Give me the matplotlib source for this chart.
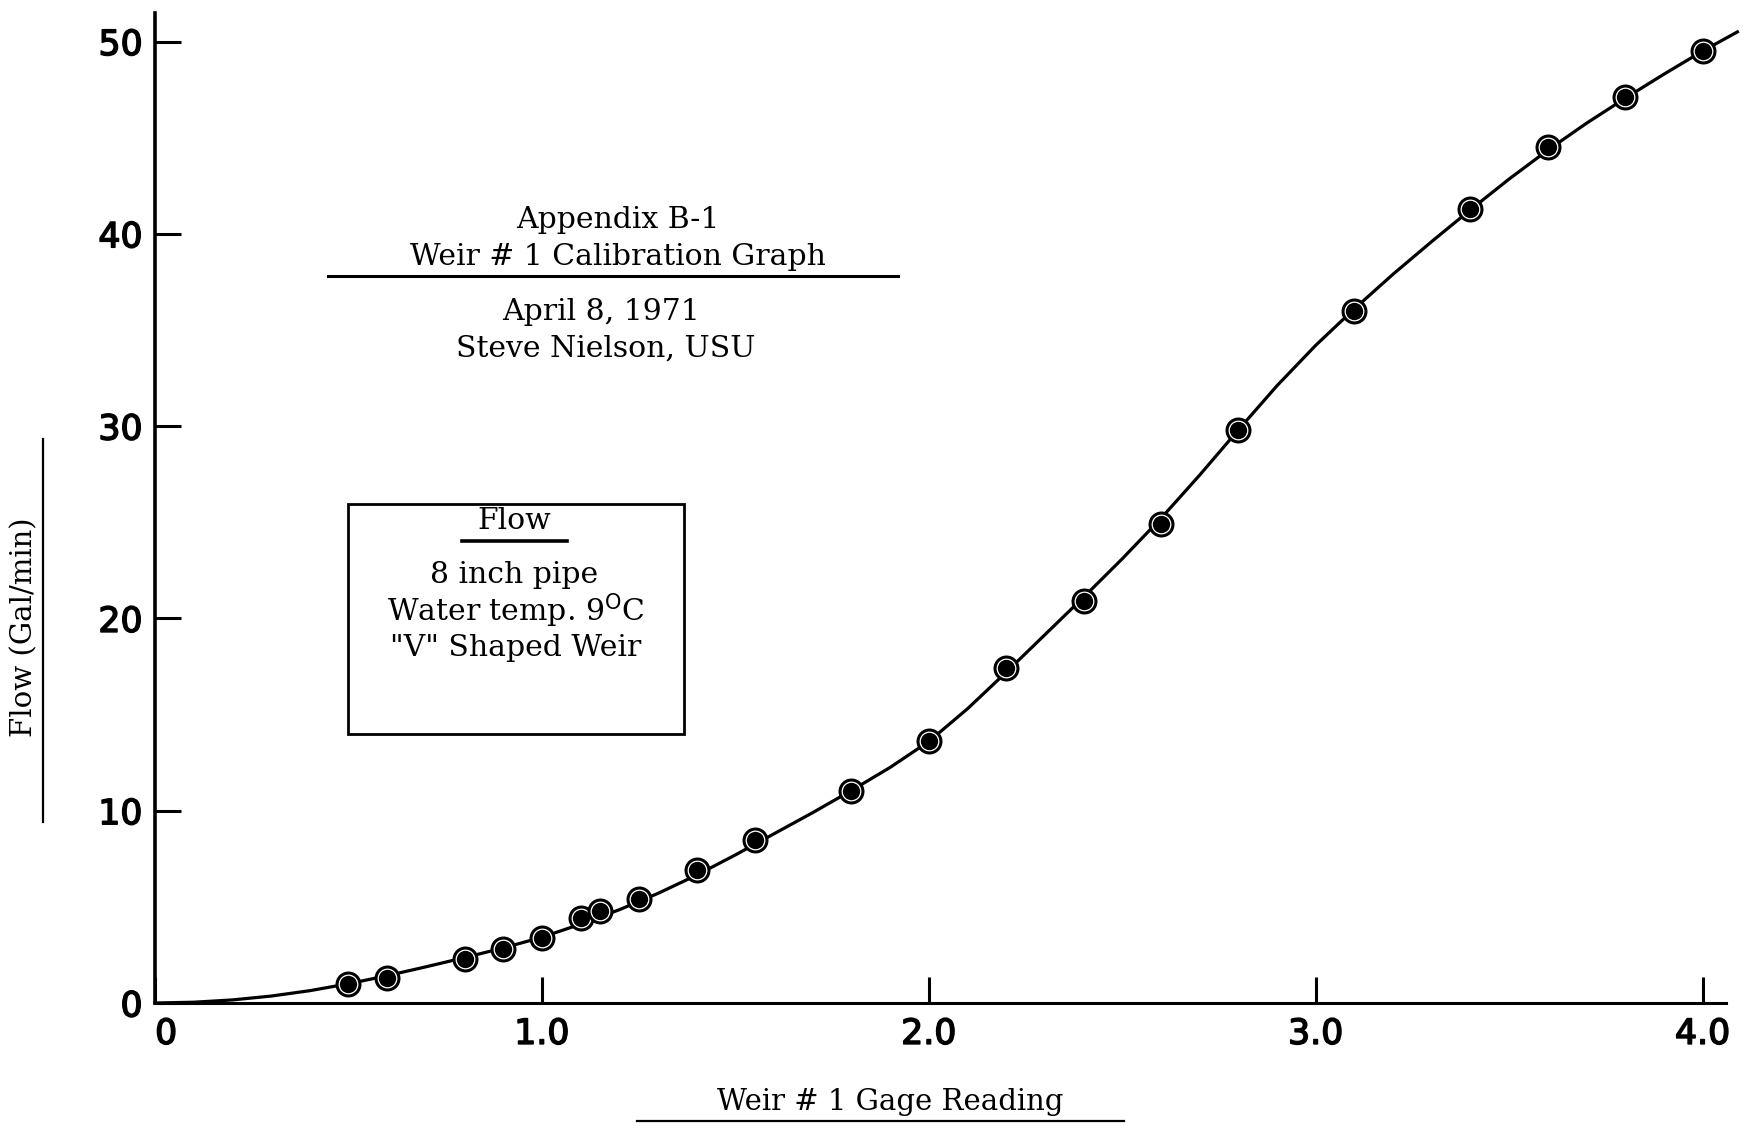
import matplotlib
matplotlib.use("Agg")
import matplotlib.pyplot as plt
import matplotlib.transforms as mtransforms
import matplotlib.patheffects as pe
from matplotlib.lines import Line2D
from matplotlib.patches import Rectangle

# Measured calibration points (gage reading, flow in gal/min)
gage = [0.5, 0.6, 0.8, 0.9, 1.0, 1.1, 1.15, 1.25, 1.4, 1.55, 1.8, 2.0,
        2.2, 2.4, 2.6, 2.8, 3.1, 3.4, 3.6, 3.8, 4.0]
flow = [1.0, 1.3, 2.3, 2.8, 3.4, 4.4, 4.8, 5.4, 6.9, 8.5, 11.0, 13.6,
        17.4, 20.9, 24.9, 29.8, 36.0, 41.3, 44.5, 47.1, 49.5]

# Hand-drawn calibration curve
curve_x = [0, 0.1, 0.2, 0.3, 0.4, 0.5, 0.6, 0.7, 0.8, 0.9, 1.0, 1.1, 1.2, 1.3,
           1.4, 1.5, 1.6, 1.7, 1.8, 1.9, 2.0, 2.1, 2.2, 2.3, 2.4, 2.5, 2.6,
           2.7, 2.8, 2.9, 3.0, 3.1, 3.2, 3.3, 3.4, 3.5, 3.6, 3.7, 3.8, 3.9,
           4.0, 4.09]
curve_y = [0, 0.04, 0.16, 0.36, 0.64, 1.0, 1.42, 1.88, 2.36, 2.86, 3.42, 4.1,
           4.85, 5.7, 6.65, 7.7, 8.8, 9.9, 11.05, 12.25, 13.6, 15.3, 17.2,
           19.15, 21.1, 23.1, 25.2, 27.45, 29.8, 32.1, 34.2, 36.1, 37.9,
           39.6, 41.25, 42.85, 44.35, 45.75, 47.05, 48.3, 49.5, 50.5]

x_ticks = [0, 1.0, 2.0, 3.0, 4.0]
x_tick_labels = ["0", "1.0", "2.0", "3.0", "4.0"]
y_ticks = [0, 10, 20, 30, 40, 50]
y_tick_labels = ["0", "10", "20", "30", "40", "50"]

W, H = 1753, 1128
fig = plt.figure(figsize=(W / 100, H / 100), dpi=100)

# axes placement in pixels
ax_left, ax_bottom_px = 155, 1003
xmax, ymax = 4.06, 51.5
px_per_x = 386.9
px_per_y = 19.23
ax = fig.add_axes([ax_left / W, 1 - ax_bottom_px / H,
                   xmax * px_per_x / W, ymax * px_per_y / H])
ax.set_xlim(0, xmax)
ax.set_ylim(0, ymax)

for s in ["top", "right"]:
    ax.spines[s].set_visible(False)
ax.spines["left"].set_linewidth(2.6)
ax.spines["bottom"].set_linewidth(2.2)

ax.set_xticks(x_ticks)
ax.set_xticklabels(x_tick_labels)
ax.set_yticks(y_ticks)
ax.set_yticklabels(y_tick_labels)
ax.tick_params(axis="both", direction="in", length=19, width=2.2,
               labelsize=25)
ax.tick_params(axis="x", pad=10)
ax.tick_params(axis="y", pad=9)
thick = [pe.withStroke(linewidth=1.1, foreground="black")]
for lab in ax.get_xticklabels() + ax.get_yticklabels():
    lab.set_fontfamily("DejaVu Sans")
    lab.set_path_effects(thick)
# the x-axis "0" sits a little to the right of the origin
xl0 = ax.get_xticklabels()[0]
xl0.set_transform(xl0.get_transform() +
                  mtransforms.ScaledTranslation(8 / 72, 0, fig.dpi_scale_trans))

ax.plot(curve_x, curve_y, color="black", lw=2.3, zorder=2, clip_on=False)
ax.plot(gage, flow, linestyle="none", marker="o", ms=16.5, mfc="white",
        mec="black", mew=2.2, zorder=3, clip_on=False)
ax.plot(gage, flow, linestyle="none", marker="o", ms=12.5, mfc="black",
        mec="black", mew=0, zorder=4, clip_on=False)

serif = "DejaVu Serif"
TS = 21.5


def ftext(x, y, s, size=TS, **kw):
    fig.text(x / W, 1 - y / H, s, ha="center", va="center",
             family=serif, fontsize=size, **kw)


def fline(x0, y0, x1, y1, lw=2.0):
    fig.add_artist(Line2D([x0 / W, x1 / W], [1 - y0 / H, 1 - y1 / H],
                          color="black", lw=lw, transform=fig.transFigure))


# Title block
ftext(618, 220, "Appendix B-1")
ftext(618, 257, "Weir # 1 Calibration Graph")
fline(328, 276, 898, 276, lw=2.2)
ftext(601, 312, "April 8, 1971")
ftext(606, 349, "Steve Nielson, USU")

# Info box
fig.add_artist(Rectangle((348 / W, 1 - 734 / H), (684 - 348) / W,
                         (734 - 504) / H, fill=False, lw=2.0,
                         edgecolor="black", transform=fig.transFigure))
ftext(514, 521, "Flow")
fline(462, 541, 567, 541, lw=2.6)
ftext(514, 575, "8 inch pipe")
ftext(516, 611, "Water temp. 9$^{\\mathrm{O}}$C")
ftext(516, 648, "\"V\" Shaped Weir")

# Axis titles
ftext(24, 627, "Flow (Gal/min)", size=21, rotation=90)
fline(42.5, 439, 42.5, 822, lw=1.6)
ftext(890, 1102, "Weir # 1 Gage Reading", size=21)
fline(637, 1121, 1124, 1121, lw=1.6)

fig.savefig("out.png", dpi=100)
